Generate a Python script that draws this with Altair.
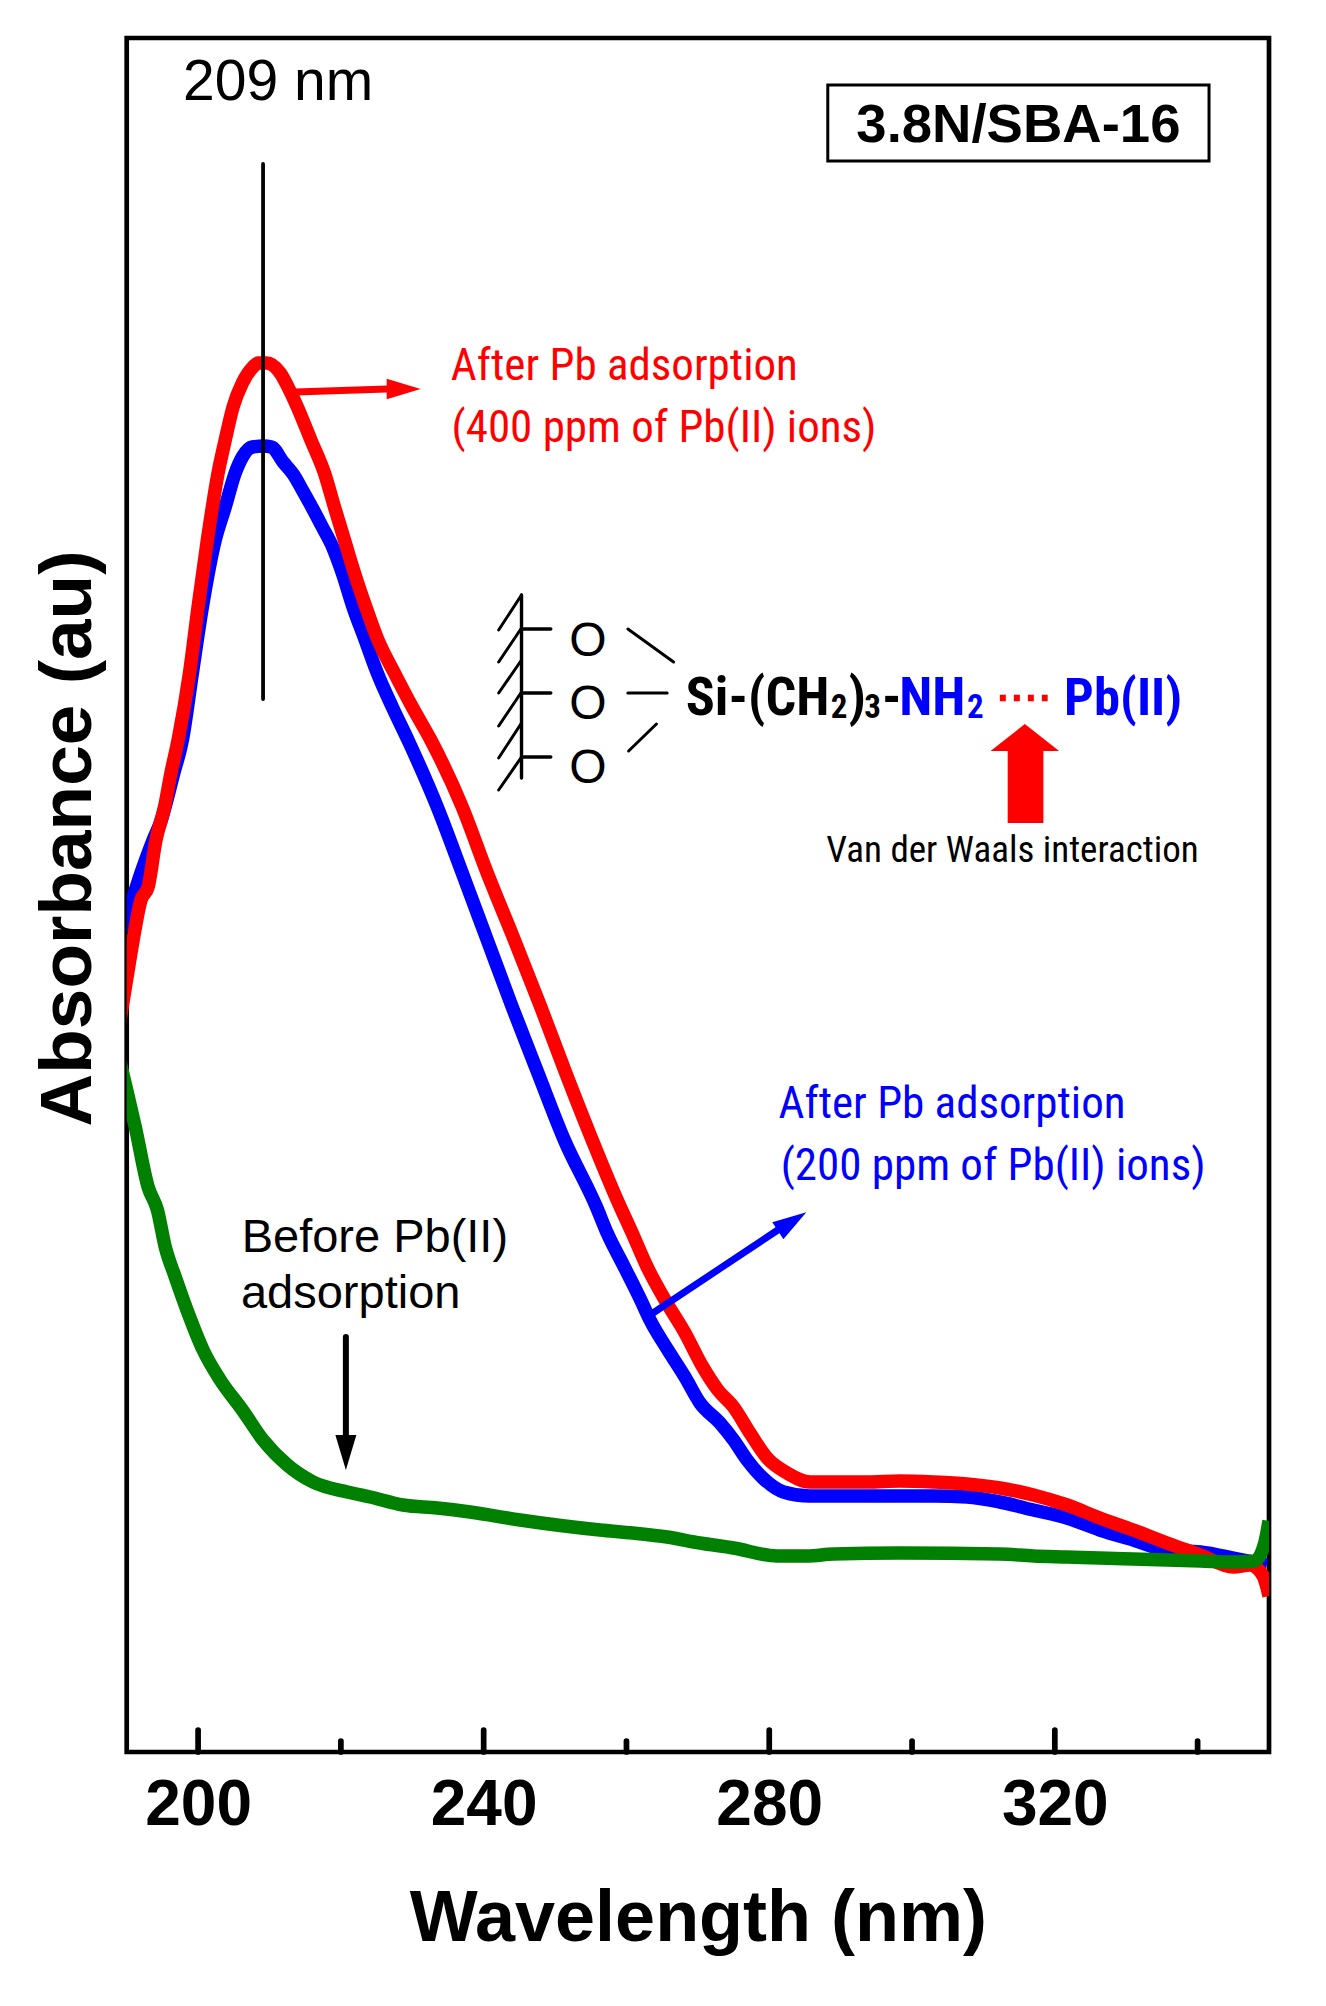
import altair as alt
import pandas as pd

# ---- curves: wavelength (nm), absorbance (arbitrary units)
red_nm = [189.0,190.0,190.9,192.0,193.0,194.1,195.3,196.2,197.2,198.8,200.0,201.3,202.8,203.8,204.9,206.2,207.7,208.4,209.6,211.5,212.8,213.9,215.8,217.7,219.1,220.5,221.9,223.5,225.2,227.5,230.0,232.6,237.0,240.5,244.3,248.0,251.5,255.2,258.7,260.8,262.9,265.4,268.2,270.7,272.8,275.0,277.3,279.7,282.5,285.7,293.7,298.3,303.0,307.7,312.3,317.0,321.7,326.3,331.0,335.7,340.4,345.0,347.3,349.1,349.7,350.0]
red_au = [680,724,763,803,816,863,896,930,963,1030,1096,1163,1230,1263,1296,1320,1336,1340,1340,1330,1313,1296,1263,1230,1196,1163,1130,1096,1063,1030,996,963,896,830,763,696,630,563,503,470,436,403,370,336,313,296,270,245,230,221,221,222,221,219,215,208,198,185,173,160,148,136,138,128,116,107]
blue_nm = [189.3,190.0,190.9,192.0,193.7,194.7,196.6,197.8,199.2,200.6,202.4,203.8,205.2,206.2,207.6,209.1,210.3,211.9,213.4,214.6,216.0,217.4,218.9,220.2,221.7,223.4,225.1,227.2,229.4,233.5,237.0,240.5,244.0,247.6,251.3,255.8,257.3,259.7,262.0,263.3,265.8,268.2,270.3,273.1,275.0,276.9,279.1,282.0,285.7,293.7,303.0,307.7,312.3,317.0,321.7,326.3,331.0,335.7,340.4,345.0,349.7]
blue_au = [773,787,806,830,863,880,930,963,1030,1096,1163,1196,1230,1246,1256,1257,1256,1241,1228,1213,1195,1176,1155,1130,1096,1063,1030,996,963,896,830,763,696,630,563,496,470,436,403,383,353,326,300,280,263,243,225,211,207,207,207,206,201,193,185,173,163,153,151,145,138]
green_nm = [189.0,190.0,191.2,193.0,194.3,195.4,196.8,198.6,200.7,203.1,206.2,209.1,212.5,216.1,220.9,224.1,228.7,233.5,238.1,245.1,256.3,260.9,265.7,270.3,275.0,281.1,285.3,289.0,298.3,312.3,317.0,321.7,326.3,331.0,335.7,340.4,345.0,348.0,349.4,350.0]
green_au = [643,613,576,516,493,456,426,390,353,323,293,263,238,221,211,206,198,195,191,183,173,170,166,160,155,147,147,149,150,149,147,146,145,144,143,142,141,142,160,182]

major_ticks = [200, 240, 280, 320]
minor_ticks = [220, 260, 300, 340]
peak_nm = 209.1

xs = alt.Scale(domain=[190, 350], nice=False, zero=False)
ys = alt.Scale(domain=[-49, 1665], nice=False, zero=False)

x_axis = alt.Axis(
    title="Wavelength (nm)", values=major_ticks, grid=False, domain=False, ticks=False, tickSize=0,
    labelFont="Liberation Sans", labelFontWeight="bold", labelFontSize=64, labelColor="black",
    labelBaseline="alphabetic", labelPadding=72, labelAngle=0, labelFlush=False,
    titleFont="Liberation Sans", titleFontWeight="bold", titleFontSize=72, titleColor="black",
    titleBaseline="alphabetic", titleY=188)
y_axis = alt.Axis(
    title="Absorbance (au)", grid=False, domain=False, ticks=False, labels=False,
    titleFont="Liberation Sans", titleFontWeight="bold", titleFontSize=73, titleColor="black",
    titleAngle=270, titleBaseline="alphabetic", titleAlign="center", titleX=-36, titleY=800)
X = alt.X("x:Q", scale=xs, axis=x_axis)
Y = alt.Y("y:Q", scale=ys, axis=y_axis)


def curve(nm, au, color):
    df = pd.DataFrame({"x": nm, "y": au})
    return alt.Chart(df).mark_line(color=color, strokeWidth=13.5, clip=True, strokeCap="butt",
                                   strokeJoin="round", interpolate="monotone").encode(x=X, y=Y)


def segs(rows, color, width, cap="round", dash=None):
    df = pd.DataFrame(rows, columns=["x", "y", "x2", "y2"])
    kw = {"strokeDash": dash} if dash else {}
    return alt.Chart(df).mark_rule(color=color, strokeWidth=width, strokeCap=cap, **kw).encode(
        x=X, y=Y, x2="x2:Q", y2="y2:Q")


def label(rows, size, color="black", font="Liberation Sans", weight="normal", align="left"):
    df = pd.DataFrame(rows, columns=["x", "y", "t"])
    return alt.Chart(df).mark_text(fontSize=size, color=color, font=font, fontWeight=weight,
                                   align=align, baseline="alphabetic").encode(x=X, y=Y, text="t:N")


def head(x, y, angle, size, color):
    df = pd.DataFrame({"x": [x], "y": [y]})
    return alt.Chart(df).mark_point(shape="M0,-1L0.6,1L-0.6,1Z", filled=True, opacity=1, size=size,
                                    angle=angle, color=color, strokeWidth=0).encode(x=X, y=Y)


ticks = segs([[v, -49, v, -27] for v in major_ticks], "black", 5.7)
mticks = segs([[v, -49, v, -38] for v in minor_ticks], "black", 5.7)

box = alt.Chart(pd.DataFrame({"x": [288.2], "x2": [341.6], "y": [1618], "y2": [1542]})).mark_rect(
    fill="white", stroke="black", strokeWidth=3).encode(x=X, x2="x2:Q", y=Y, y2="y2:Q")

peak = segs([[peak_nm, 1539, peak_nm, 1004]], "black", 3.8)

red_arrow = segs([[213.6, 1311, 226.5, 1314]], "#ff0000", 7, cap="butt")
blue_arrow = segs([[263.3, 388, 281.2, 473]], "#0000ff", 7, cap="butt")
black_arrow = segs([[220.7, 366, 220.7, 268]], "black", 6)

wall = segs([[245.3, 1108, 245.3, 925]], "black", 3.4)
hatch = segs([[245.3, 1108, 242.1, 1073], [245.3, 1075, 242.1, 1041], [245.3, 1043, 242.1, 1010],
              [245.3, 1011, 242.1, 977], [245.3, 980, 242.1, 945], [245.3, 946, 242.1, 913]], "black", 3)
stubs = segs([[245.3, 1074, 249.4, 1074], [245.3, 1010, 249.4, 1010], [245.3, 946, 249.4, 946]], "black", 3.4)
bonds = segs([[260.2, 1074, 266.6, 1041], [260.2, 1010, 265.7, 1010], [264.2, 979, 260.3, 952]], "black", 3)
dots = segs([[312.3, 1005, 319.0, 1005]], "#ff0000", 6.5, cap="butt", dash=[6, 8])

big_shaft = alt.Chart(pd.DataFrame({"x": [313.4], "x2": [318.4], "y": [952], "y2": [880]})).mark_rect(
    color="#ff0000").encode(x=X, x2="x2:Q", y=Y, y2="y2:Q")
big_head = alt.Chart(pd.DataFrame({"x": [311.0, 315.8, 320.6], "y": [952, 979, 952], "y2": [952, 952, 952]})).mark_area(
    color="#ff0000").encode(x=X, y=Y, y2="y2:Q")

NARROW = "Roboto Condensed, Liberation Sans"
texts = [
    label([[197.9, 1603, "209 nm"]], 57),
    label([[314.9, 1561, "3.8N/SBA-16"]], 54.5, weight="bold", align="center"),
    label([[235.4, 1323, "After Pb adsorption"], [235.5, 1261, "(400 ppm of Pb(II) ions)"]], 45, "#ff0000", NARROW),
    label([[281.3, 585, "After Pb adsorption"], [281.6, 523, "(200 ppm of Pb(II) ions)"]], 45, "#0000ff", NARROW),
    label([[206.1, 451, "Before Pb(II)"], [206.0, 395, "adsorption"]], 47),
    label([[254.6, 1047, "O"], [254.6, 984, "O"], [254.6, 920, "O"]], 48, align="center"),
    label([[268.3, 988, "Si-(CH"], [291.1, 988, ")"], [295.8, 988, "-"]], 54, font=NARROW, weight="bold"),
    label([[288.6, 985, "2"], [293.3, 985, "3"]], 33, font=NARROW, weight="bold"),
    label([[298.2, 988, "NH"]], 54, "#0000ff", NARROW, "bold"),
    label([[321.3, 988, "Pb(II)"]], 52.5, "#0000ff", NARROW, "bold"),
    label([[307.7, 985, "2"]], 33, "#0000ff", NARROW, "bold"),
    label([[288.0, 841, "Van der Waals interaction"]], 37, font=NARROW),
]

chart = alt.layer(
    ticks, mticks,
    curve(blue_nm, blue_au, "#0000ff"),
    curve(red_nm, red_au, "#ff0000"),
    curve(green_nm, green_au, "#008000"),
    peak, box,
    red_arrow, head(228.8, 1314, 90, 1156, "#ff0000"),
    blue_arrow, head(283.2, 481.5, 57, 1156, "#0000ff"),
    black_arrow, head(220.7, 250.5, 180, 1225, "black"),
    wall, hatch, stubs, bonds, dots, big_shaft, big_head,
    *texts,
).properties(
    width=1142.3, height=1714, background="white",
    autosize=alt.AutoSizeParams(type="none"),
    padding={"left": 118.7, "top": 30, "right": 40, "bottom": 238},
).configure_view(stroke="black", strokeWidth=4.7)

chart.save("out.html", embed_options={"renderer": "svg", "actions": False})
